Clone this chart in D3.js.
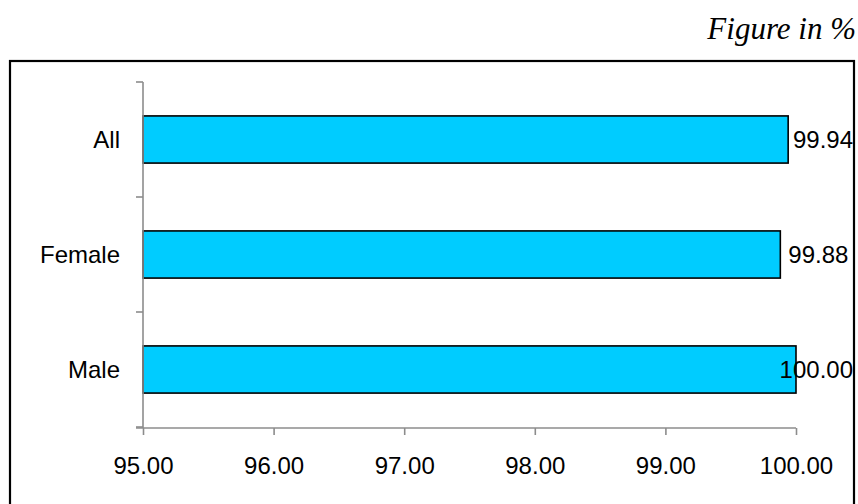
<!DOCTYPE html>
<html>
<head>
<meta charset="utf-8">
<script src="https://cdn.jsdelivr.net/npm/d3@7"></script>
<style>
  html, body { margin: 0; padding: 0; background: #fff; }
  svg { display: block; }
</style>
</head>
<body>
<svg id="chart" width="858" height="504"></svg>
<script>
// Share by sex (%)
const categories = ["All", "Female", "Male"];
const values = [99.94, 99.88, 100.00];
const tickValues = [95, 96, 97, 98, 99, 100];

const svg = d3.select("#chart");

const fontSans = "'Liberation Sans', Arial, sans-serif";
const fontSize = 24;
const axisColor = "#8c8c8c";

// outer frame
svg.append("rect")
  .attr("x", 10).attr("y", 61)
  .attr("width", 844).attr("height", 460)
  .attr("fill", "none")
  .attr("stroke", "#000")
  .attr("stroke-width", 2.2);

// unit note
svg.append("text")
  .attr("x", 856).attr("y", 39)
  .attr("text-anchor", "end")
  .attr("font-family", "'Liberation Serif', 'Times New Roman', serif")
  .attr("font-style", "italic")
  .attr("font-size", 31)
  .text("Figure in %");

const plot = { left: 143, right: 796, top: 82, bottom: 427 };

const x = d3.scaleLinear().domain([95, 100]).range([plot.left, plot.right]);
const y = d3.scaleBand().domain(categories)
  .range([plot.top, plot.bottom])
  .paddingInner(0.59).paddingOuter(0.295);

// bars
svg.append("g").selectAll("rect")
  .data(categories)
  .join("rect")
  .attr("x", x(95))
  .attr("y", d => y(d))
  .attr("width", (d, i) => x(values[i]) - x(95))
  .attr("height", y.bandwidth())
  .attr("fill", "#00ccff")
  .attr("stroke", "#000")
  .attr("stroke-width", 1.6);

// value axis (bottom)
const xAxis = d3.axisBottom(x)
  .tickValues(tickValues)
  .tickSize(7)
  .tickPadding(22)
  .tickFormat(d3.format(".2f"));

const gx = svg.append("g")
  .attr("transform", `translate(0,${plot.bottom + 1})`)
  .call(xAxis);
gx.select(".domain").remove();
gx.append("line")
  .attr("x1", plot.left - 7).attr("x2", plot.right)
  .attr("stroke", axisColor).attr("stroke-width", 1.6);
gx.selectAll(".tick line").attr("stroke", axisColor).attr("stroke-width", 1.6);
gx.selectAll(".tick text")
  .attr("fill", "#000")
  .attr("font-family", fontSans)
  .attr("font-size", fontSize);

// category axis (left)
const gy = svg.append("g");
gy.append("line")
  .attr("x1", plot.left).attr("x2", plot.left)
  .attr("y1", plot.top).attr("y2", plot.bottom + 1)
  .attr("stroke", axisColor).attr("stroke-width", 1.6);
const step = y.step();
const boundaries = d3.range(categories.length + 1).map(i => plot.top + i * step);
gy.selectAll("line.tick")
  .data(boundaries)
  .join("line")
  .attr("class", "tick")
  .attr("x1", plot.left - 7).attr("x2", plot.left)
  .attr("y1", d => d).attr("y2", d => d)
  .attr("stroke", axisColor).attr("stroke-width", 1.6);
gy.selectAll("text")
  .data(categories)
  .join("text")
  .attr("x", plot.left - 23)
  .attr("y", d => y(d) + y.bandwidth() / 2)
  .attr("dy", "0.36em")
  .attr("text-anchor", "end")
  .attr("font-family", fontSans)
  .attr("font-size", fontSize)
  .text(d => d);

// value labels, kept inside the frame
const labelLimit = 853;
svg.append("g").selectAll("text")
  .data(categories)
  .join("text")
  .attr("y", d => y(d) + y.bandwidth() / 2)
  .attr("dy", "0.36em")
  .attr("font-family", fontSans)
  .attr("font-size", fontSize)
  .text((d, i) => d3.format(".2f")(values[i]))
  .attr("x", function (d, i) {
    const w = this.getComputedTextLength();
    return Math.min(x(values[i]) + 8, labelLimit - w);
  });
</script>
</body>
</html>
